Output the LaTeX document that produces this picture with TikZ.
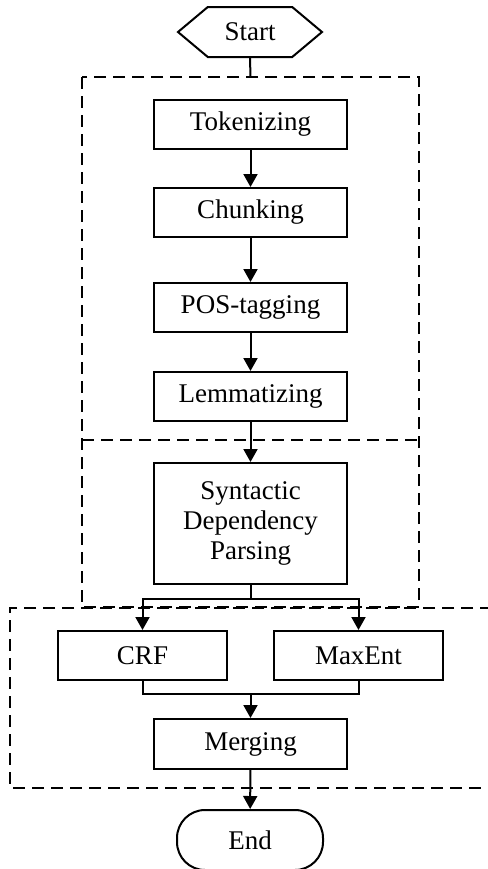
\documentclass[tikz,border=0pt]{standalone}
\usepackage{fontspec}
\setmainfont{Liberation Serif}
\usepackage{tikz}
\usetikzlibrary{arrows.meta}
\usetikzlibrary{shapes.symbols}
\usetikzlibrary{positioning}

\tikzset{
  stage/.style={draw, line width=1pt, minimum width=96.5pt, minimum height=24.5pt, align=center, inner sep=2pt, font=\fontsize{13.5}{15}\selectfont},
  model/.style={stage, minimum width=84.5pt},
  terminal/.style={draw, line width=1pt, minimum width=73pt, minimum height=30pt, rounded corners=14pt, font=\fontsize{13.5}{15}\selectfont},
  hexa/.style={draw, line width=1pt, signal, signal to=west and east, signal pointer angle=80, minimum width=72pt, minimum height=25pt, inner xsep=1pt, font=\fontsize{13.5}{15}\selectfont},
  region/.style={line width=1pt, dash pattern=on 6pt off 3.5pt},
  flow/.style={line width=1pt}
}

\begin{document}
\begin{tikzpicture}[x=0.5pt, y=-0.5pt, >={Triangle[length=6.5pt,width=7pt]}]
		\useasboundingbox (0,0) rectangle (488,869);
		%coordinates
		\coordinate (topin) at (250.5,77);
		\coordinate (split) at (250.5,599);
		\coordinate (join)  at (250.5,694);
		
		%regions
		\draw[region] (82,77) rectangle (419,607);
		\draw[region] (82,440) -- (419,440);
		\draw[region] (492,608) -- (10,608) -- (10,788) -- (492,788);
		
		%nodes
		\node[hexa] (start) at (250,32) {Start};
		\node[stage] (tok) at (250.5,124.5) {Tokenizing};
		\node[stage] (chunk) at (250.5,212.5) {Chunking};
		\node[stage] (pos) at (250.5,307.5) {POS-tagging};
		\node[stage] (lem) at (250.5,396.5) {Lemmatizing};
		\node[stage, minimum height=60.5pt] (syn) at (250.5,523.5) {Syntactic\\Dependency\\Parsing};
		\node[model] (crf) at (142.5,655.5) {CRF};
		\node[model] (maxent) at (358.5,655.5) {MaxEnt};
		\node[stage, minimum height=25pt] (merge) at (250.5,744) {Merging};
		\node[terminal] (end) at (250,840) {End};
		
		%connectors
		\draw[flow] (start.south) -- (topin);
		\draw[flow,->] (tok) -- (chunk);
		\draw[flow,->] (chunk) -- (pos);
		\draw[flow,->] (pos) -- (lem);
		\draw[flow,->] (lem) -- (syn);
		\draw[flow] (syn.south) -- (split);
		\draw[flow,->] (split) -| (crf.north);
		\draw[flow,->] (split) -| (maxent.north);
		\draw[flow] (crf.south) |- (join);
		\draw[flow] (maxent.south) |- (join);
		\draw[flow,->] (join) -- (merge.north);
		\draw[flow,->] (merge) -- (end);
\end{tikzpicture}
\end{document}
